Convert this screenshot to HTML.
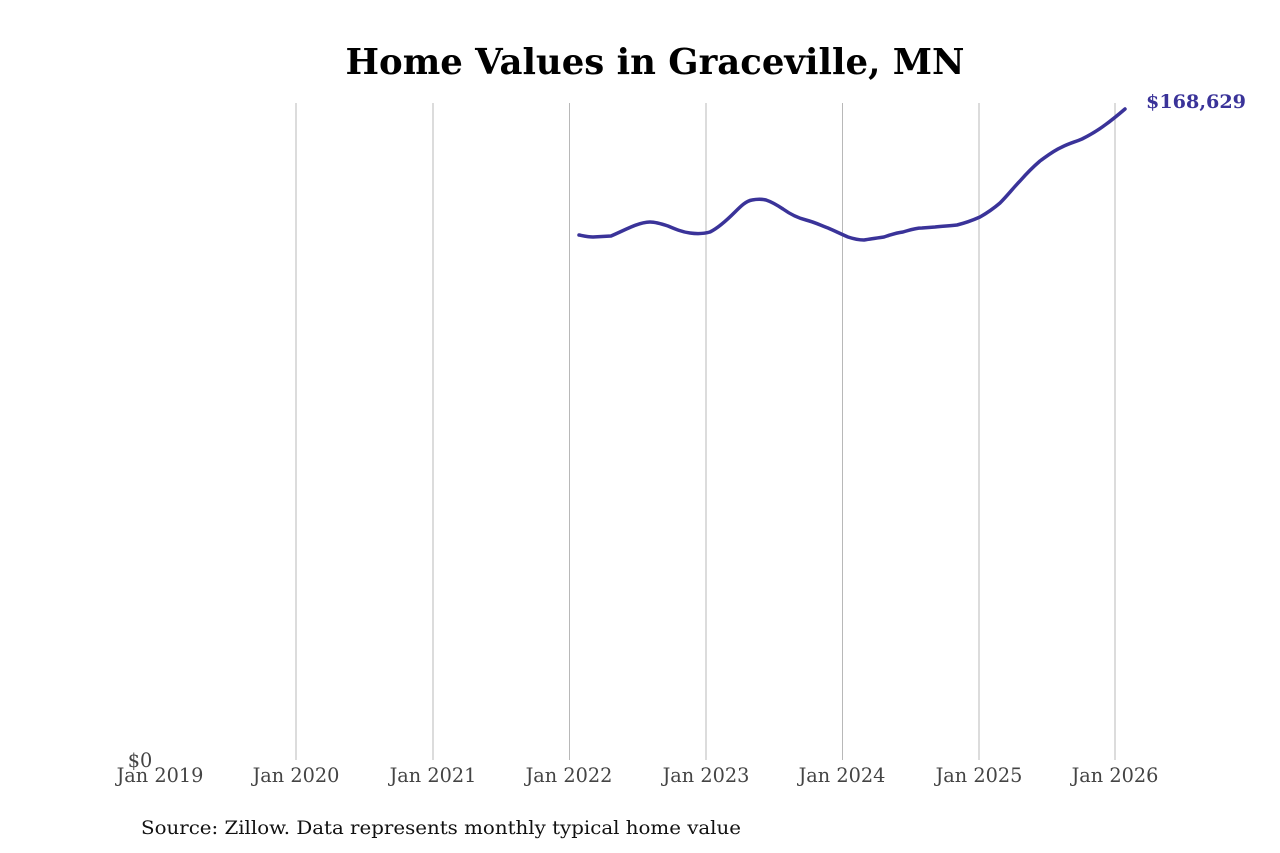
<!DOCTYPE html>
<html><head><meta charset="utf-8"><style>body{margin:0;background:#fff}svg{display:block}</style></head>
<body>
<svg width="1280" height="853" viewBox="0 0 1280 853" xmlns="http://www.w3.org/2000/svg">
<rect width="1280" height="853" fill="#fff"/>
<text x="655" y="74" text-anchor="middle" font-family="DejaVu Serif, Liberation Serif, serif" font-weight="bold" font-size="35.5" fill="#000" textLength="619" lengthAdjust="spacingAndGlyphs">Home Values in Graceville, MN</text>
<g stroke="#b8b8b8" stroke-width="1">
<line x1="296" y1="103" x2="296" y2="760"/>
<line x1="433" y1="103" x2="433" y2="760"/>
<line x1="569.5" y1="103" x2="569.5" y2="760"/>
<line x1="706" y1="103" x2="706" y2="760"/>
<line x1="842.5" y1="103" x2="842.5" y2="760"/>
<line x1="979" y1="103" x2="979" y2="760"/>
<line x1="1115" y1="103" x2="1115" y2="760"/>
</g>
<g font-family="DejaVu Serif, Liberation Serif, serif" font-size="19.3" fill="#444" text-anchor="middle">
<text x="160" y="782">Jan 2019</text>
<text x="296" y="782">Jan 2020</text>
<text x="433" y="782">Jan 2021</text>
<text x="569" y="782">Jan 2022</text>
<text x="706" y="782">Jan 2023</text>
<text x="842" y="782">Jan 2024</text>
<text x="979" y="782">Jan 2025</text>
<text x="1115" y="782">Jan 2026</text>
<text x="140" y="767">$0</text>
</g>
<path fill="none" stroke="#3a3399" stroke-width="3.5" stroke-linejoin="round" stroke-linecap="round"
d="M579,235 C584,236 588,237 593,237 L611,236 C618,233 624,230 631,227 C638,224 644,222 650,222 C656,222 662,224 668,226 C675,229 682,232 690,233 C697,234 703,234 710,232 C718,228 726,221 735,212 C741,206 746,201 752,200 C757,199 762,199 766,200 C772,202 777,205 783,209 C790,214 798,218 806,220 C814,222 820,225 828,228 C835,231 841,234 848,237 C854,239 858,240 864,240 C870,239 877,238 884,237 C890,235 895,233 903,232 C910,230 915,228 922,228 L935,227 C943,226 948,226 957,225 C965,223 971,221 980,217 C987,213 993,209 1000,203 C1008,195 1014,187 1020,181 C1027,173 1033,167 1040,161 C1047,156 1053,151 1062,147 C1070,143 1075,142 1082,139 C1090,135 1097,131 1105,125 C1112,120 1118,115 1125,109"/>
<text x="1146" y="108" font-family="DejaVu Serif, Liberation Serif, serif" font-weight="bold" font-size="18.5" fill="#3a3399" textLength="100" lengthAdjust="spacingAndGlyphs">$168,629</text>
<text x="141" y="834" font-family="DejaVu Serif, Liberation Serif, serif" font-size="19" fill="#111" textLength="600" lengthAdjust="spacingAndGlyphs">Source: Zillow. Data represents monthly typical home value</text>
</svg>
</body></html>
